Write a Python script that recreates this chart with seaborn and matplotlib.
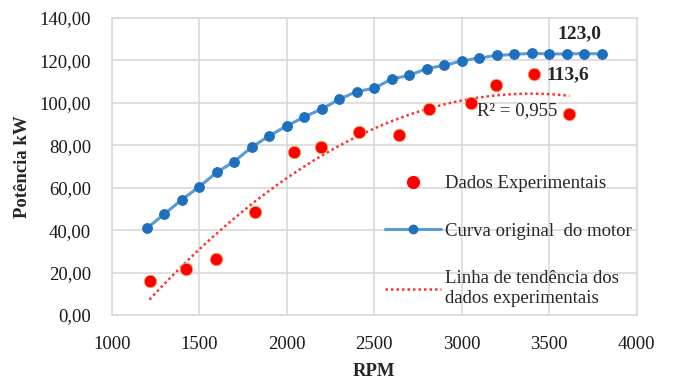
import numpy as np
import pandas as pd
import matplotlib
matplotlib.use("Agg")
import matplotlib.pyplot as plt
import seaborn as sns
from matplotlib.ticker import FuncFormatter, MultipleLocator
from matplotlib.lines import Line2D

# Original engine curve
rpm_motor = [1200, 1300, 1400, 1500, 1600, 1700, 1800, 1900, 2000, 2100, 2200, 2300, 2400,
             2500, 2600, 2700, 2800, 2900, 3000, 3100, 3200, 3300, 3400, 3500, 3600, 3700, 3800]
pot_motor = [40.8, 47.5, 54.3, 60.4, 67.2, 72.3, 79.1, 84.4, 89.1, 93.3, 97.1, 101.6, 105.3,
             106.8, 111.2, 112.9, 116.1, 117.6, 119.7, 121.1, 122.3, 122.8, 123.3, 123.0, 123.0, 123.2, 123.0]

# Experimental data
rpm_exp = [1216, 1426, 1597, 1820, 2039, 2197, 2416, 2643, 2816, 3053, 3197, 3416, 3616]
pot_exp = [16.2, 21.7, 26.6, 48.5, 76.6, 79.0, 86.2, 84.9, 97.2, 100.0, 108.3, 113.6, 94.5]

sns.set_theme(style="white")
plt.rcParams['font.family'] = ['Liberation Serif', 'DejaVu Serif']

fig, ax = plt.subplots(figsize=(6.73, 3.8), dpi=100)
fig.subplots_adjust(left=0.166, right=0.946, top=0.953, bottom=0.171)

blue_line = "#5B9BD5"
blue_mark = "#1F6FBF"
red = "#FF0000"
trend_c = "#FF3030"
dots = (0, (1, 1.2))

# Trend line (2nd order polynomial of experimental data)
coef = np.polyfit(rpm_exp, pot_exp, 2)
xt = np.linspace(min(rpm_exp), max(rpm_exp), 200)
df_trend = pd.DataFrame({"rpm": xt, "pot": np.polyval(coef, xt)})

df_motor = pd.DataFrame({"rpm": rpm_motor, "pot": pot_motor})
df_exp = pd.DataFrame({"rpm": rpm_exp, "pot": pot_exp})

sns.lineplot(data=df_motor, x="rpm", y="pot", ax=ax, color=blue_line, linewidth=2.2,
             marker="o", markersize=7, markerfacecolor=blue_mark, markeredgecolor=blue_mark, zorder=3)
sns.scatterplot(data=df_exp, x="rpm", y="pot", ax=ax, color=red, s=80,
                edgecolor="#F4A460", linewidth=0.6, zorder=4)
sns.lineplot(data=df_trend, x="rpm", y="pot", ax=ax, color=trend_c, linewidth=1.8,
             linestyle=dots, zorder=2)

ax.set_xlim(1000, 4000)
ax.set_ylim(0, 140)
ax.xaxis.set_major_locator(MultipleLocator(500))
ax.yaxis.set_major_locator(MultipleLocator(20))
ax.yaxis.set_major_formatter(FuncFormatter(lambda v, p: f"{v:.2f}".replace(".", ",")))
ax.grid(True, color="#D9D9D9", linewidth=1.2)
ax.set_axisbelow(True)
for s in ax.spines.values():
    s.set_color("#D9D9D9")
    s.set_linewidth(1.2)
ax.tick_params(axis="both", labelsize=13.5, length=0, colors="#1a1a1a")
ax.tick_params(axis="y", pad=15)
ax.tick_params(axis="x", pad=15)
ax.set_xlabel("RPM", fontsize=13.5, fontweight="bold", labelpad=7)
ax.set_ylabel("Potência kW", fontsize=13.5, fontweight="bold", labelpad=6)

ax.text(3800, 128.5, "123,0", ha="right", va="bottom", fontsize=14, fontweight="bold")
ax.text(3485, 113.0, "113,6", ha="left", va="center", fontsize=14, fontweight="bold")
ax.text(3090, 96.5, "R² = 0,955", ha="left", va="center", fontsize=13.5)

handles = [
    Line2D([], [], linestyle="none", marker="o", markersize=8.5, color=red, markeredgecolor=red),
    Line2D([], [], color=blue_line, linewidth=2.2, marker="o", markersize=6,
           markerfacecolor=blue_mark, markeredgecolor=blue_mark),
    Line2D([], [], color=trend_c, linewidth=1.8, linestyle=dots),
]
labels = ["Dados Experimentais", "Curva original  do motor",
          "Linha de tendência dos\ndados experimentais"]
ax.legend(handles, labels, loc="upper left", bbox_to_anchor=(0.521, 0.47), frameon=False,
          fontsize=13.5, handlelength=3.0, handletextpad=0.2, labelspacing=1.62,
          borderaxespad=0, borderpad=0)

fig.savefig("out.png", dpi=100)
